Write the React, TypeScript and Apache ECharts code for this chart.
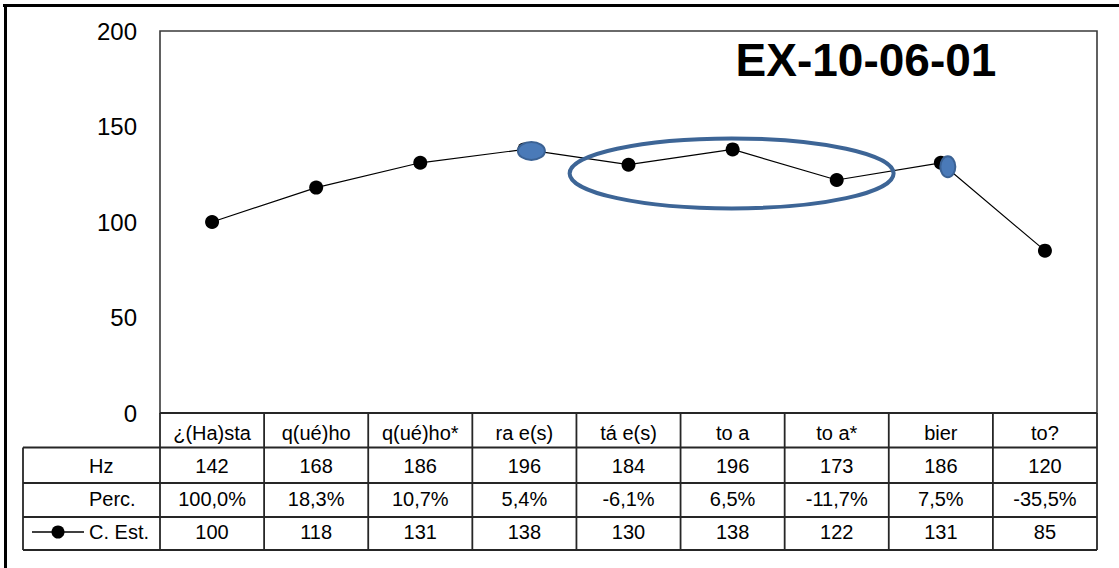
import React, { useEffect, useRef } from "react";
import * as echarts from "echarts";

const categories = ["¿(Ha)sta", "q(ué)ho", "q(ué)ho*", "ra e(s)", "tá e(s)", "to a", "to a*", "bier", "to?"];
const hzValues = [142, 168, 186, 196, 184, 196, 173, 186, 120];
const percLabels = ["100,0%", "18,3%", "10,7%", "5,4%", "-6,1%", "6,5%", "-11,7%", "7,5%", "-35,5%"];
const cEstValues = [100, 118, 131, 138, 130, 138, 122, 131, 85];
const rowHeaders = ["Hz", "Perc.", "C. Est."];
const chartTitle = "EX-10-06-01";

const FONT = "'Liberation Sans', Arial, sans-serif";

export default function App() {
  const ref = useRef<HTMLDivElement>(null);
  useEffect(() => {
    const chart = echarts.init(ref.current!, null, { renderer: "svg" });
    const gridLeft = 160;
    const gridRight = 1097;
    const gridTop = 31;
    const gridBottom = 413;
    chart.setOption({
      animation: false,
      backgroundColor: "#fff",
      grid: {
        left: gridLeft,
        right: 1119 - gridRight,
        top: gridTop,
        bottom: 568 - gridBottom,
        show: true,
        borderColor: "#3a3a3a",
        borderWidth: 1.6,
        backgroundColor: "transparent",
      },
      xAxis: {
        type: "category",
        data: categories,
        boundaryGap: true,
        axisLine: { show: false },
        axisTick: { show: false },
        axisLabel: { show: false },
        splitLine: { show: false },
      },
      yAxis: {
        type: "value",
        min: 0,
        max: 200,
        interval: 50,
        axisLine: { show: false },
        axisTick: { show: false },
        splitLine: { show: false },
        axisLabel: { fontSize: 24, color: "#000", fontFamily: FONT, margin: 23 },
      },
      series: [
        {
          type: "line",
          name: "C. Est.",
          data: cEstValues,
          symbol: "circle",
          symbolSize: 14,
          itemStyle: { color: "#000" },
          lineStyle: { color: "#000", width: 1.2 },
          z: 2,
        },
      ],
    });

    const n = categories.length;
    const colW = (gridRight - gridLeft) / n;
    const rowTops = [413, 447.5, 483, 517, 550];
    const rowTextY = [433, 465.5, 499, 532];
    const tableLeft = 23;
    const els: any[] = [];
    const lineStyle = { stroke: "#262626", lineWidth: 1.8 };
    els.push({ type: "line", shape: { x1: gridLeft, y1: rowTops[0], x2: gridRight, y2: rowTops[0] }, style: lineStyle });
    for (let r = 1; r < rowTops.length; r++) {
      els.push({ type: "line", shape: { x1: tableLeft, y1: rowTops[r], x2: gridRight, y2: rowTops[r] }, style: lineStyle });
    }
    els.push({ type: "line", shape: { x1: tableLeft, y1: rowTops[1], x2: tableLeft, y2: rowTops[4] }, style: lineStyle });
    for (let c = 0; c <= n; c++) {
      const x = gridLeft + c * colW;
      els.push({ type: "line", shape: { x1: x, y1: rowTops[0], x2: x, y2: rowTops[4] }, style: lineStyle });
    }
    const textEl = (x: number, y: number, t: string, align = "center") => ({
      type: "text",
      x,
      y,
      style: { text: t, fill: "#000", font: `20px ${FONT}`, textAlign: align, textVerticalAlign: "middle" },
    });
    const rowsText = [categories, hzValues.map(String), percLabels, cEstValues.map(String)];
    for (let r = 0; r < rowsText.length; r++) {
      for (let c = 0; c < n; c++) {
        const px = chart.convertToPixel({ xAxisIndex: 0 }, c) as any;
        const x = typeof px === "number" ? px : gridLeft + (c + 0.5) * colW;
        els.push(textEl(x, rowTextY[r], rowsText[r][c]));
      }
    }
    for (let r = 0; r < rowHeaders.length; r++) {
      els.push(textEl(89, rowTextY[r + 1], rowHeaders[r], "left"));
    }
    const ky = rowTextY[3];
    els.push({ type: "line", shape: { x1: 32, y1: ky, x2: 84, y2: ky }, style: { stroke: "#000", lineWidth: 1.4 } });
    els.push({ type: "circle", shape: { cx: 58, cy: ky, r: 6.5 }, style: { fill: "#000" } });

    els.push({
      type: "text",
      x: 866,
      y: 60,
      style: { text: chartTitle, fill: "#000", font: `bold 46px ${FONT}`, textAlign: "center", textVerticalAlign: "middle" },
      z: 10,
    });

    const p3 = chart.convertToPixel({ gridIndex: 0 }, [3, cEstValues[3]]) as number[];
    const p5 = chart.convertToPixel({ gridIndex: 0 }, [5, cEstValues[5]]) as number[];
    const p7 = chart.convertToPixel({ gridIndex: 0 }, [7, cEstValues[7]]) as number[];
    els.push({
      type: "ellipse",
      shape: { cx: p3[0] + 7, cy: p3[1] + 1.5, rx: 13.5, ry: 9 },
      style: { fill: "#4a7ab8", stroke: "#3b6294", lineWidth: 2 },
      z: 20,
    });
    els.push({
      type: "ellipse",
      shape: { cx: p5[0] - 1, cy: p5[1] + 24, rx: 162, ry: 35 },
      style: { fill: "none", stroke: "#3d6596", lineWidth: 4 },
      z: 20,
    });
    els.push({
      type: "ellipse",
      shape: { cx: p7[0] + 7, cy: p7[1] + 4, rx: 7.5, ry: 10.5 },
      style: { fill: "#4a7ab8", stroke: "#3b6294", lineWidth: 2 },
      z: 20,
    });

    els.push({ type: "line", shape: { x1: 3, y1: 5.5, x2: 1119, y2: 5.5 }, style: { stroke: "#000", lineWidth: 3 } });
    els.push({ type: "line", shape: { x1: 5.5, y1: 4, x2: 5.5, y2: 568 }, style: { stroke: "#000", lineWidth: 3 } });

    chart.setOption({ graphic: { elements: els } });
    return () => chart.dispose();
  }, []);
  return (
    <div
      ref={ref}
      style={{ position: "absolute", left: 0, top: 0, width: 1119, height: 568, background: "#fff" }}
    />
  );
}
